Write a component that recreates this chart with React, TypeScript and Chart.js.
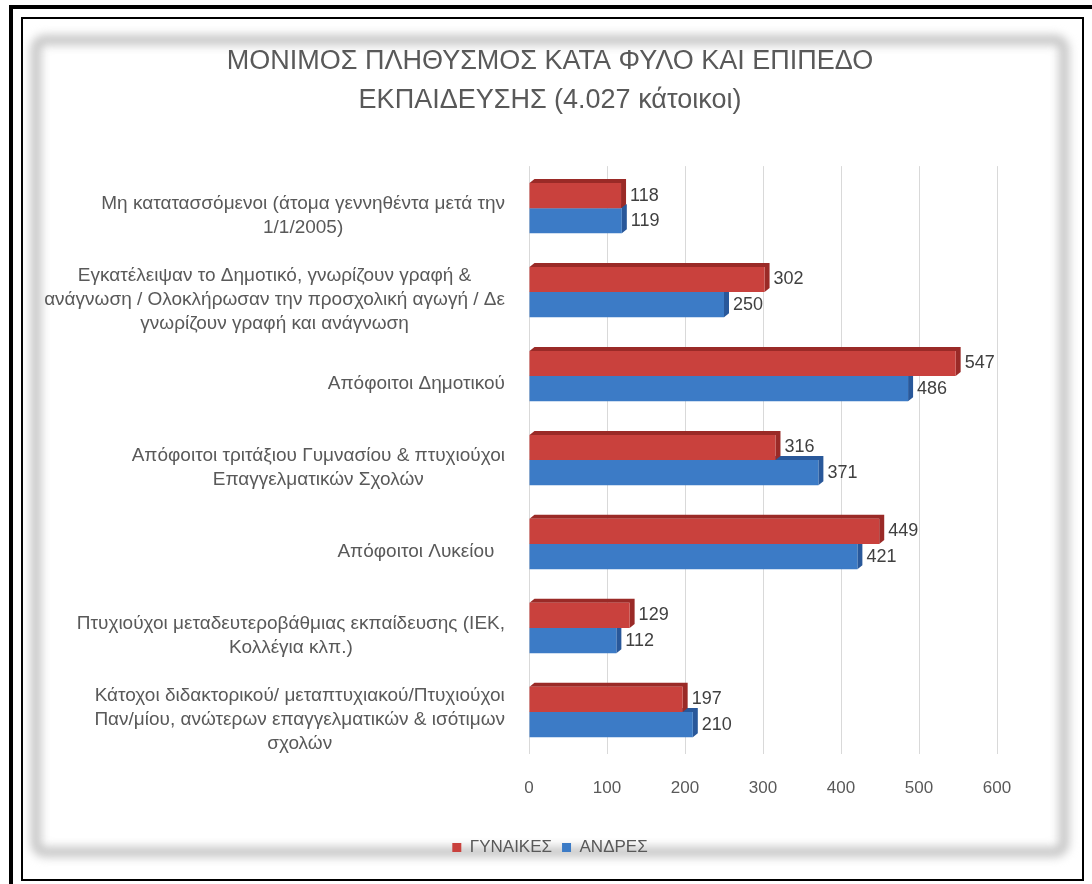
import React, { useEffect, useRef } from 'react';
import { Chart, registerables } from 'chart.js';

Chart.register(...registerables);

const categories: string[][] = [
  ['Μη κατατασσόμενοι (άτομα γεννηθέντα μετά την', '1/1/2005)'],
  ['Εγκατέλειψαν το Δημοτικό, γνωρίζουν γραφή &', 'ανάγνωση / Ολοκλήρωσαν την προσχολική αγωγή / Δε', 'γνωρίζουν γραφή και ανάγνωση'],
  ['Απόφοιτοι Δημοτικού'],
  ['Απόφοιτοι τριτάξιου Γυμνασίου & πτυχιούχοι', 'Επαγγελματικών Σχολών'],
  ['Απόφοιτοι Λυκείου  '],
  ['Πτυχιούχοι μεταδευτεροβάθμιας εκπαίδευσης (ΙΕΚ,', 'Κολλέγια κλπ.)'],
  ['Κάτοχοι διδακτορικού/ μεταπτυχιακού/Πτυχιούχοι', 'Παν/μίου, ανώτερων επαγγελματικών & ισότιμων', 'σχολών'],
];

const women = [118, 302, 547, 316, 449, 129, 197];
const men = [119, 250, 486, 371, 421, 112, 210];
const seriesNames = ['ΓΥΝΑΙΚΕΣ', 'ΑΝΔΡΕΣ'];
const titleLines = ['ΜΟΝΙΜΟΣ ΠΛΗΘΥΣΜΟΣ ΚΑΤΑ ΦΥΛΟ ΚΑΙ ΕΠΙΠΕΔΟ', 'ΕΚΠΑΙΔΕΥΣΗΣ (4.027 κάτοικοι)'];
const xMin = 0;
const xMax = 600;
const xStep = 100;

const FONT = "'Liberation Sans', Arial, sans-serif";
const TEXT = '#595959';
const RED = '#C9413D';
const RED_SIDE = '#9A2A27';
const BLUE = '#3C7BC6';
const BLUE_SIDE = '#29589A';

const depthPlugin = {
  id: 'depth',
  beforeDatasetsDraw(chart: any) {
    const ctx = chart.ctx;
    const dx = 5;
    const dy = 4;
    const sides = [RED_SIDE, BLUE_SIDE];
    for (let d = chart.data.datasets.length - 1; d >= 0; d--) {
      const meta = chart.getDatasetMeta(d);
      ctx.save();
      ctx.fillStyle = sides[d];
      meta.data.forEach((bar: any) => {
        const { x, y, base, height } = bar.getProps(['x', 'y', 'base', 'height'], true);
        const top = y - height / 2;
        const bottom = y + height / 2;
        ctx.beginPath();
        ctx.moveTo(base, top);
        ctx.lineTo(base + dx, top - dy);
        ctx.lineTo(x + dx, top - dy);
        ctx.lineTo(x + dx, bottom - dy);
        ctx.lineTo(x, bottom);
        ctx.lineTo(x, top);
        ctx.closePath();
        ctx.fill();
      });
      ctx.restore();
    }
  },
  afterDatasetsDraw(chart: any) {
    const ctx = chart.ctx;
    ctx.save();
    ctx.font = `18px ${FONT}`;
    ctx.fillStyle = '#404040';
    ctx.textAlign = 'left';
    ctx.textBaseline = 'middle';
    chart.data.datasets.forEach((ds: any, d: number) => {
      const meta = chart.getDatasetMeta(d);
      meta.data.forEach((bar: any, i: number) => {
        const { x, y } = bar.getProps(['x', 'y'], true);
        ctx.fillText(String(ds.data[i]), x + 9, y);
      });
    });
    ctx.restore();
  },
  afterDraw(chart: any) {
    const ctx = chart.ctx;
    const yScale = chart.scales.y;
    const lineH = 24;
    const rightEdge = yScale.right - 24;
    ctx.save();
    ctx.font = `19px ${FONT}`;
    ctx.fillStyle = TEXT;
    ctx.textAlign = 'center';
    ctx.textBaseline = 'middle';
    categories.forEach((lines, i) => {
      const cy = yScale.getPixelForValue(i) + 8;
      const maxW = Math.max(...lines.map((l) => ctx.measureText(l).width));
      const cx = rightEdge - maxW / 2;
      lines.forEach((line, j) => {
        ctx.fillText(line, cx, cy + (j - (lines.length - 1) / 2) * lineH);
      });
    });
    ctx.restore();
  },
};

export default function App() {
  const ref = useRef<HTMLCanvasElement | null>(null);

  useEffect(() => {
    if (!ref.current) return;
    Chart.defaults.font.family = FONT;
    const chart = new Chart(ref.current, {
      type: 'bar',
      data: {
        labels: categories,
        datasets: [
          { label: seriesNames[0], data: women, backgroundColor: RED, borderWidth: 0 },
          { label: seriesNames[1], data: men, backgroundColor: BLUE, borderWidth: 0 },
        ],
      },
      options: {
        indexAxis: 'y',
        animation: false,
        responsive: false,
        maintainAspectRatio: false,
        devicePixelRatio: 1,
        layout: { padding: { top: 20, left: 103, right: 95, bottom: 18 } },
        datasets: { bar: { categoryPercentage: 0.6, barPercentage: 1.0 } },
        scales: {
          x: {
            min: xMin,
            max: xMax,
            border: { display: false },
            grid: { color: '#d9d9d9', drawTicks: false, lineWidth: 1 },
            ticks: { stepSize: xStep, padding: 24, color: TEXT, font: { size: 17 } },
            afterFit(scale: any) {
              scale.height = 75;
            },
          },
          y: {
            border: { display: false },
            grid: { display: false },
            ticks: { display: false },
            afterFit(scale: any) {
              scale.width = 426;
            },
          },
        },
        plugins: {
          title: {
            display: true,
            text: titleLines,
            color: TEXT,
            font: { size: 27, weight: 'normal', lineHeight: 1.41 },
            padding: { top: 23, bottom: 47 },
          },
          legend: {
            position: 'bottom',
            labels: {
              boxWidth: 9,
              boxHeight: 9,
              color: TEXT,
              font: { size: 17 },
              padding: 10,
            },
          },
          tooltip: { enabled: false },
        },
      },
      plugins: [depthPlugin],
    } as any);
    return () => chart.destroy();
  }, []);

  return (
    <div style={{ position: 'absolute', left: 0, top: 0, width: 1092, height: 884, background: '#fff', overflow: 'hidden' }}>
      <div style={{ position: 'absolute', left: 9, top: 5, width: 1200, height: 1000, borderTop: '4px solid #000', borderLeft: '4px solid #000', boxSizing: 'border-box' }} />
      <div style={{ position: 'absolute', left: 21, top: 17, width: 1063, height: 864, border: '2px solid #000', boxSizing: 'border-box' }} />
      <div style={{ position: 'absolute', left: 31, top: 35, width: 1038, height: 822, border: '10px solid #c4c4c4', borderRadius: 14, boxSizing: 'border-box', filter: 'blur(5px)' }} />
      <canvas ref={ref} width={1092} height={884} style={{ position: 'absolute', left: 0, top: 0, width: 1092, height: 884 }} />
    </div>
  );
}
